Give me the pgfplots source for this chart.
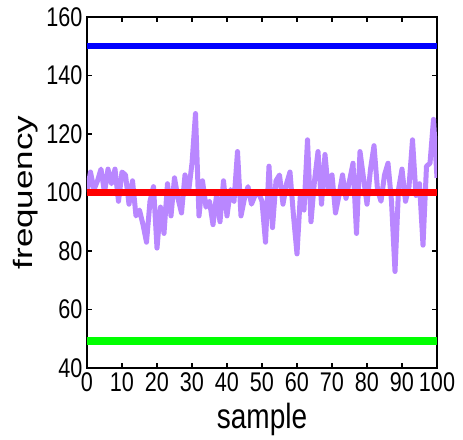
\documentclass[border=0pt]{standalone}
\usepackage{fontspec}
\setmainfont{Liberation Sans}
\newfontfamily\tickfont{Liberation Sans}[FakeStretch=0.8]
\newfontfamily\labfont{Liberation Sans}[FakeStretch=0.8]
\usepackage{graphicx}
\usepackage{pgfplots}
\pgfplotsset{compat=1.18}
\definecolor{lpurple}{RGB}{185,135,255}
\begin{document}
\begin{tikzpicture}
\begin{axis}[
  scale only axis,
  width=350pt, height=351pt,
  xmin=0, xmax=100, ymin=40, ymax=160,
  xtick={0,10,...,100}, ytick={40,60,...,160},
  tick align=inside,
  major tick length=5pt,
  axis line style={line width=1.6pt},
  every tick/.style={black, line width=1.2pt},
  /pgf/number format/assume math mode=true,
  tick label style={font=\fontsize{27}{27}\tickfont},
  xticklabel style={yshift=-1pt},
  yticklabel style={xshift=-1pt},
  xlabel={\fontsize{35}{35}\labfont sample},
  ylabel={\scalebox{1}[0.76]{\fontsize{35}{35}\selectfont frequency}},
  xlabel style={yshift=-5pt},
  ylabel style={yshift=2pt},
]
\addplot[lpurple, line width=5pt, line join=round] coordinates {
(0,100)(1,107)(2,101)(3,104)(4,108)(5,100)(6,108)(7,103)(8,108)(9,97)
(10,107)(11,106)(12,96)(13,104)(14,92)(15,94)(16,89)(17,83)(18,97)(19,102)
(20,81)(21,95)(22,86)(23,103)(24,92)(25,105)(26,98)(27,93)(28,106)(29,100)
(30,110)(31,127)(32,92)(33,104)(34,95)(35,97)(36,89)(37,99)(38,90)(39,104)
(40,92)(41,101)(42,97)(43,114)(44,92)(45,98)(46,102)(47,96)(48,99)(49,100)
(50,97)(51,83)(52,109)(53,88)(54,104)(55,106)(56,96)(57,103)(58,107)(59,92)
(60,79)(61,100)(62,94)(63,118)(64,90)(65,104)(66,114)(67,96)(68,113)(69,100)
(70,106)(71,93)(72,99)(73,106)(74,98)(75,104)(76,110)(77,86)(78,114)(79,105)
(80,96)(81,108)(82,116)(83,101)(84,97)(85,106)(86,110)(87,97)(88,73)(89,101)
(90,108)(91,97)(92,102)(93,118)(94,99)(95,103)(96,82)(97,109)(98,110)(99,125)
(100,105)
};
\addplot[red, line width=6.5pt] coordinates {(0,100)(100,100)};
\addplot[blue, line width=6pt] coordinates {(0,150)(100,150)};
\addplot[green, line width=8pt] coordinates {(0,49.4)(100,49.4)};
\end{axis}
\path (current axis.south west) ++(-87pt,-68pt) rectangle ++(463pt,436pt);
\end{tikzpicture}
\end{document}
